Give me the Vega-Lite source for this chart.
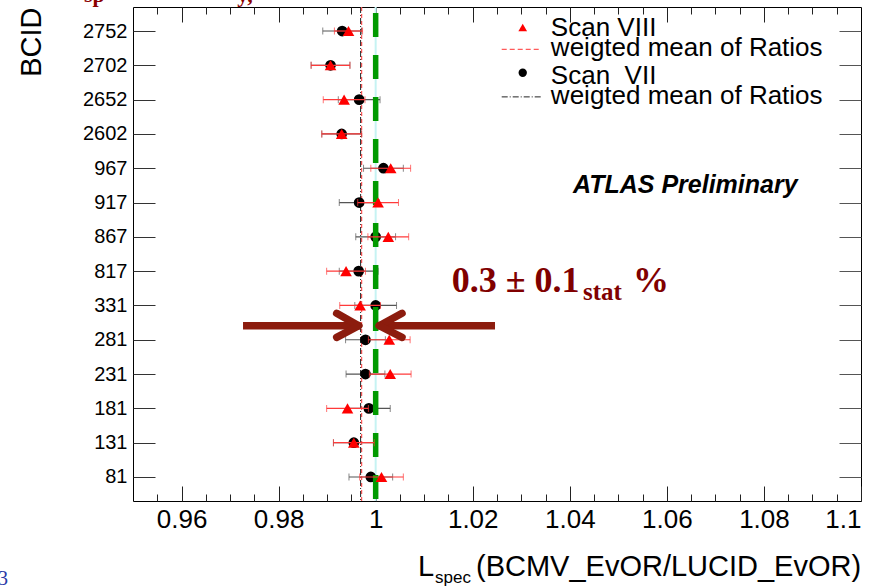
{
  "$schema": "https://vega.github.io/schema/vega-lite/v6.json",
  "width": 728,
  "height": 494,
  "autosize": {"type": "none"},
  "padding": {"left": 133, "top": 7, "right": 31, "bottom": 86},
  "background": "white",
  "config": {
    "font": "Liberation Sans",
    "view": {"stroke": "black", "strokeWidth": 1},
    "axis": {"grid": false, "domain": false}
  },
  "datasets": {
    "ratios": [
      {"bcid": "2752", "scan": "VII", "x": 0.9931, "err": 0.0040},
      {"bcid": "2702", "scan": "VII", "x": 0.9907, "err": 0.0040},
      {"bcid": "2652", "scan": "VII", "x": 0.9966, "err": 0.0043},
      {"bcid": "2602", "scan": "VII", "x": 0.9930, "err": 0.0041},
      {"bcid": "967", "scan": "VII", "x": 1.0016, "err": 0.0041},
      {"bcid": "917", "scan": "VII", "x": 0.9966, "err": 0.0041},
      {"bcid": "867", "scan": "VII", "x": 1.0000, "err": 0.0041},
      {"bcid": "817", "scan": "VII", "x": 0.9965, "err": 0.0040},
      {"bcid": "331", "scan": "VII", "x": 1.0000, "err": 0.0043},
      {"bcid": "281", "scan": "VII", "x": 0.9979, "err": 0.0041},
      {"bcid": "231", "scan": "VII", "x": 0.9979, "err": 0.0040},
      {"bcid": "181", "scan": "VII", "x": 0.9986, "err": 0.0044},
      {"bcid": "131", "scan": "VII", "x": 0.9955, "err": 0.0042},
      {"bcid": "81", "scan": "VII", "x": 0.9990, "err": 0.0045},
      {"bcid": "2752", "scan": "VIII", "x": 0.9944, "err": 0.0029},
      {"bcid": "2702", "scan": "VIII", "x": 0.9907, "err": 0.0040},
      {"bcid": "2652", "scan": "VIII", "x": 0.9935, "err": 0.0043},
      {"bcid": "2602", "scan": "VIII", "x": 0.9930, "err": 0.0041},
      {"bcid": "967", "scan": "VIII", "x": 1.0031, "err": 0.0041},
      {"bcid": "917", "scan": "VIII", "x": 1.0005, "err": 0.0042},
      {"bcid": "867", "scan": "VIII", "x": 1.0026, "err": 0.0042},
      {"bcid": "817", "scan": "VIII", "x": 0.9939, "err": 0.0040},
      {"bcid": "331", "scan": "VIII", "x": 0.9968, "err": 0.0042},
      {"bcid": "281", "scan": "VIII", "x": 1.0028, "err": 0.0043},
      {"bcid": "231", "scan": "VIII", "x": 1.0030, "err": 0.0043},
      {"bcid": "181", "scan": "VIII", "x": 0.9942, "err": 0.0043},
      {"bcid": "131", "scan": "VIII", "x": 0.9955, "err": 0.0042},
      {"bcid": "81", "scan": "VIII", "x": 1.0012, "err": 0.0045}
    ],
    "means": [
      {"scan": "VIII", "x": 0.9971},
      {"scan": "VII", "x": 0.9969}
    ],
    "reference": [{"x": 1}]
  },
  "resolve": {"scale": {"y": "independent"}},
  "layer": [
    {
      "resolve": {"axis": {"x": "independent", "y": "independent"}},
      "layer": [
        {
          "data": {"name": "reference"},
          "mark": {"type": "rule", "color": "#c6f3f3", "strokeWidth": 2},
          "encoding": {
            "x": {"field": "x", "type": "quantitative",
              "scale": {"domain": [0.95, 1.1], "nice": false, "zero": false},
              "axis": {"orient": "bottom", "values": [0.96, 0.98, 1, 1.02, 1.04, 1.06, 1.08, 1.1], "format": "~r",
                "labelFontSize": 26, "labelColor": "black", "labelFont": "Liberation Sans",
                "tickSize": -15, "tickColor": "#222", "tickWidth": 1, "labelPadding": 20, "title": null}}
          }
        },
        {
          "data": {"name": "means"},
          "transform": [{"filter": "datum.scan === 'VIII'"}],
          "mark": {"type": "rule", "color": "#ff5a5a", "strokeWidth": 1.3, "strokeDash": [4, 3]},
          "encoding": {
            "x": {"field": "x", "type": "quantitative",
              "scale": {"domain": [0.95, 1.1], "nice": false, "zero": false},
              "axis": {"orient": "bottom", "values": [0.955, 0.965, 0.97, 0.975, 0.985, 0.99, 0.995, 1.005, 1.01, 1.015, 1.025, 1.03, 1.035, 1.045, 1.05, 1.055, 1.065, 1.07, 1.075, 1.085, 1.09, 1.095],
                "labels": false, "tickSize": -7, "tickColor": "#222", "title": null}}
          }
        },
        {
          "data": {"name": "means"},
          "transform": [{"filter": "datum.scan === 'VII'"}],
          "mark": {"type": "rule", "color": "#222222", "strokeWidth": 1, "strokeDash": [6, 2, 1, 2]},
          "encoding": {
            "x": {"field": "x", "type": "quantitative",
              "scale": {"domain": [0.95, 1.1], "nice": false, "zero": false},
              "axis": {"orient": "top", "values": [0.96, 0.98, 1, 1.02, 1.04, 1.06, 1.08],
                "labels": false, "tickSize": -15, "tickColor": "#222", "title": null}}
          }
        },
        {
          "data": {"name": "ratios"},
          "transform": [{"filter": "datum.scan === 'VII'"}],
          "mark": {"type": "errorbar", "color": "#555555", "ticks": {"size": 7, "color": "#555555"}, "rule": {"strokeWidth": 1.2}},
          "encoding": {
            "x": {"field": "x", "type": "quantitative",
              "scale": {"domain": [0.95, 1.1], "nice": false, "zero": false}, "axis": null},
            "xError": {"field": "err"},
            "y": {"field": "bcid", "type": "nominal",
              "scale": {"type": "point", "padding": 0.7, "domain": ["2752", "2702", "2652", "2602", "967", "917", "867", "817", "331", "281", "231", "181", "131", "81"]},
              "axis": null}
          }
        },
        {
          "data": {"name": "ratios"},
          "transform": [{"filter": "datum.scan === 'VII'"}],
          "mark": {"type": "point", "shape": "circle", "filled": true, "size": 115, "color": "black", "opacity": 1},
          "encoding": {
            "x": {"field": "x", "type": "quantitative",
              "scale": {"domain": [0.95, 1.1], "nice": false, "zero": false}, "axis": null},
            "y": {"field": "bcid", "type": "nominal",
              "scale": {"type": "point", "padding": 0.7, "domain": ["2752", "2702", "2652", "2602", "967", "917", "867", "817", "331", "281", "231", "181", "131", "81"]},
              "axis": {"orient": "left", "title": "BCID", "titleFontSize": 29, "titleFont": "Liberation Sans", "titleFontWeight": "normal",
                "titleColor": "black", "titleAnchor": "start", "titleAlign": "right", "titlePadding": 36,
                "labelFontSize": 20, "labelColor": "black", "labelFont": "Liberation Sans",
                "tickSize": -22, "tickColor": "#333", "labelPadding": 28}}
          }
        },
        {
          "data": {"name": "reference"},
          "mark": {"type": "rule", "color": "#009a00", "strokeWidth": 5.5, "strokeDash": [24, 18], "strokeDashOffset": 36},
          "encoding": {
            "x": {"field": "x", "type": "quantitative",
              "scale": {"domain": [0.95, 1.1], "nice": false, "zero": false},
              "axis": {"orient": "top", "values": [0.955, 0.965, 0.97, 0.975, 0.985, 0.99, 0.995, 1.005, 1.01, 1.015, 1.025, 1.03, 1.035, 1.045, 1.05, 1.055, 1.065, 1.07, 1.075, 1.085, 1.09, 1.095],
                "labels": false, "tickSize": -7, "tickColor": "#222", "title": null}}
          }
        },
        {
          "data": {"name": "ratios"},
          "transform": [{"filter": "datum.scan === 'VIII'"}],
          "mark": {"type": "errorbar", "color": "#ff3a3a", "ticks": {"size": 7, "color": "#ff3a3a"}, "rule": {"strokeWidth": 1.2}},
          "encoding": {
            "x": {"field": "x", "type": "quantitative",
              "scale": {"domain": [0.95, 1.1], "nice": false, "zero": false}, "axis": null},
            "xError": {"field": "err"},
            "y": {"field": "bcid", "type": "nominal",
              "scale": {"type": "point", "padding": 0.7, "domain": ["2752", "2702", "2652", "2602", "967", "917", "867", "817", "331", "281", "231", "181", "131", "81"]},
              "axis": null}
          }
        },
        {
          "data": {"name": "ratios"},
          "transform": [{"filter": "datum.scan === 'VIII'"}],
          "mark": {"type": "point", "shape": "triangle-up", "filled": true, "size": 135, "color": "#ff0000", "opacity": 1},
          "encoding": {
            "x": {"field": "x", "type": "quantitative",
              "scale": {"domain": [0.95, 1.1], "nice": false, "zero": false}, "axis": null},
            "y": {"field": "bcid", "type": "nominal",
              "scale": {"type": "point", "padding": 0.7, "domain": ["2752", "2702", "2652", "2602", "967", "917", "867", "817", "331", "281", "231", "181", "131", "81"]},
              "axis": {"orient": "right", "labels": false, "tickSize": -22, "tickColor": "#555", "title": null}}
          }
        }
      ]
    },
    {
      "data": {"values": [
        {"x": 0.97267, "x2": 0.9957, "y": 4.409, "y2": 4.409},
        {"x": 1.02459, "x2": 1.0016, "y": 4.409, "y2": 4.409}
      ]},
      "mark": {"type": "rule", "color": "#8c1c0e", "strokeWidth": 7.5, "strokeCap": "butt"},
      "encoding": {
        "x": {"field": "x", "type": "quantitative", "scale": {"domain": [0.95, 1.1], "nice": false, "zero": false}, "axis": null},
        "x2": {"field": "x2"},
        "y": {"field": "y", "type": "quantitative", "scale": {"domain": [-0.7, 13.7], "nice": false, "zero": false}, "axis": null},
        "y2": {"field": "y2"}
      }
    },
    {
      "data": {"values": [
        {"x": 0.99197, "x2": 0.99650, "y": 4.771, "y2": 4.409},
        {"x": 0.99197, "x2": 0.99650, "y": 4.071, "y2": 4.409},
        {"x": 1.00543, "x2": 1.00075, "y": 4.771, "y2": 4.409},
        {"x": 1.00543, "x2": 1.00075, "y": 4.071, "y2": 4.409}
      ]},
      "mark": {"type": "rule", "color": "#8c1c0e", "strokeWidth": 7.5, "strokeCap": "round"},
      "encoding": {
        "x": {"field": "x", "type": "quantitative", "scale": {"domain": [0.95, 1.1], "nice": false, "zero": false}, "axis": null},
        "x2": {"field": "x2"},
        "y": {"field": "y", "type": "quantitative", "scale": {"domain": [-0.7, 13.7], "nice": false, "zero": false}, "axis": null},
        "y2": {"field": "y2"}
      }
    },
    {
      "data": {"values": [{"x": 1.04066, "y": 8.277, "text": "ATLAS Preliminary"}]},
      "mark": {"type": "text", "align": "left", "baseline": "alphabetic", "font": "Liberation Sans", "fontSize": 25, "fontWeight": "bold", "fontStyle": "italic", "color": "black"},
      "encoding": {
        "x": {"field": "x", "type": "quantitative", "scale": {"domain": [0.95, 1.1], "nice": false, "zero": false}, "axis": null},
        "y": {"field": "y", "type": "quantitative", "scale": {"domain": [-0.7, 13.7], "nice": false, "zero": false}, "axis": null},
        "text": {"field": "text"}
      }
    },
    {
      "data": {"values": [
        {"x": 1.01567, "y": 5.4, "text": "0.3 ± 0.1"},
        {"x": 1.05302, "y": 5.4, "text": "%"}
      ]},
      "mark": {"type": "text", "align": "left", "baseline": "alphabetic", "font": "Liberation Serif", "fontSize": 36, "fontWeight": "bold", "color": "#800000"},
      "encoding": {
        "x": {"field": "x", "type": "quantitative", "scale": {"domain": [0.95, 1.1], "nice": false, "zero": false}, "axis": null},
        "y": {"field": "y", "type": "quantitative", "scale": {"domain": [-0.7, 13.7], "nice": false, "zero": false}, "axis": null},
        "text": {"field": "text"}
      }
    },
    {
      "data": {"values": [{"x": 1.04272, "y": 5.158, "text": "stat"}]},
      "mark": {"type": "text", "align": "left", "baseline": "alphabetic", "font": "Liberation Serif", "fontSize": 25, "fontWeight": "bold", "color": "#800000"},
      "encoding": {
        "x": {"field": "x", "type": "quantitative", "scale": {"domain": [0.95, 1.1], "nice": false, "zero": false}, "axis": null},
        "y": {"field": "y", "type": "quantitative", "scale": {"domain": [-0.7, 13.7], "nice": false, "zero": false}, "axis": null},
        "text": {"field": "text"}
      }
    },
    {
      "data": {"values": [{"x": 1.0303, "y": 13.106}]},
      "mark": {"type": "point", "shape": "triangle-up", "filled": true, "size": 75, "color": "#ff0000", "opacity": 1},
      "encoding": {
        "x": {"field": "x", "type": "quantitative", "scale": {"domain": [0.95, 1.1], "nice": false, "zero": false}, "axis": null},
        "y": {"field": "y", "type": "quantitative", "scale": {"domain": [-0.7, 13.7], "nice": false, "zero": false}, "axis": null}
      }
    },
    {
      "data": {"values": [{"x": 1.0303, "y": 11.783}]},
      "mark": {"type": "point", "shape": "circle", "filled": true, "size": 70, "color": "black", "opacity": 1},
      "encoding": {
        "x": {"field": "x", "type": "quantitative", "scale": {"domain": [0.95, 1.1], "nice": false, "zero": false}, "axis": null},
        "y": {"field": "y", "type": "quantitative", "scale": {"domain": [-0.7, 13.7], "nice": false, "zero": false}, "axis": null}
      }
    },
    {
      "data": {"values": [{"x": 1.02597, "x2": 1.03421, "y": 12.465}]},
      "mark": {"type": "rule", "color": "#ff5a5a", "strokeWidth": 1.3, "strokeDash": [5, 3]},
      "encoding": {
        "x": {"field": "x", "type": "quantitative", "scale": {"domain": [0.95, 1.1], "nice": false, "zero": false}, "axis": null},
        "x2": {"field": "x2"},
        "y": {"field": "y", "type": "quantitative", "scale": {"domain": [-0.7, 13.7], "nice": false, "zero": false}, "axis": null}
      }
    },
    {
      "data": {"values": [{"x": 1.02597, "x2": 1.03421, "y": 11.08}]},
      "mark": {"type": "rule", "color": "#222222", "strokeWidth": 1, "strokeDash": [6, 2, 1, 2]},
      "encoding": {
        "x": {"field": "x", "type": "quantitative", "scale": {"domain": [0.95, 1.1], "nice": false, "zero": false}, "axis": null},
        "x2": {"field": "x2"},
        "y": {"field": "y", "type": "quantitative", "scale": {"domain": [-0.7, 13.7], "nice": false, "zero": false}, "axis": null}
      }
    },
    {
      "data": {"values": [
        {"x": 1.0361, "y": 12.853, "text": "Scan VIII"},
        {"x": 1.0361, "y": 12.27, "text": "weigted mean of Ratios"},
        {"x": 1.0361, "y": 11.46, "text": "Scan\u00a0 VII"},
        {"x": 1.0361, "y": 10.871, "text": "weigted mean of Ratios"}
      ]},
      "mark": {"type": "text", "align": "left", "baseline": "alphabetic", "font": "Liberation Sans", "fontSize": 26, "color": "black"},
      "encoding": {
        "x": {"field": "x", "type": "quantitative", "scale": {"domain": [0.95, 1.1], "nice": false, "zero": false}, "axis": null},
        "y": {"field": "y", "type": "quantitative", "scale": {"domain": [-0.7, 13.7], "nice": false, "zero": false}, "axis": null},
        "text": {"field": "text"}
      }
    },
    {
      "data": {"values": [
        {"x": 1.00873, "y": -2.886, "text": "L"},
        {"x": 1.02067, "y": -2.886, "text": "(BCMV_EvOR/LUCID_EvOR)"}
      ]},
      "mark": {"type": "text", "align": "left", "baseline": "alphabetic", "font": "Liberation Sans", "fontSize": 29, "color": "black"},
      "encoding": {
        "x": {"field": "x", "type": "quantitative", "scale": {"domain": [0.95, 1.1], "nice": false, "zero": false}, "axis": null},
        "y": {"field": "y", "type": "quantitative", "scale": {"domain": [-0.7, 13.7], "nice": false, "zero": false}, "axis": null},
        "text": {"field": "text"}
      }
    },
    {
      "data": {"values": [{"x": 1.01223, "y": -3.09, "text": "spec"}]},
      "mark": {"type": "text", "align": "left", "baseline": "alphabetic", "font": "Liberation Sans", "fontSize": 17, "color": "black"},
      "encoding": {
        "x": {"field": "x", "type": "quantitative", "scale": {"domain": [0.95, 1.1], "nice": false, "zero": false}, "axis": null},
        "y": {"field": "y", "type": "quantitative", "scale": {"domain": [-0.7, 13.7], "nice": false, "zero": false}, "axis": null},
        "text": {"field": "text"}
      }
    },
    {
      "data": {"values": [{"x": 0.92321, "y": -3.149, "text": "3"}]},
      "mark": {"type": "text", "align": "center", "baseline": "alphabetic", "font": "Liberation Serif", "fontSize": 20, "color": "#2a3aa8"},
      "encoding": {
        "x": {"field": "x", "type": "quantitative", "scale": {"domain": [0.95, 1.1], "nice": false, "zero": false}, "axis": null},
        "y": {"field": "y", "type": "quantitative", "scale": {"domain": [-0.7, 13.7], "nice": false, "zero": false}, "axis": null},
        "text": {"field": "text"}
      }
    },
    {
      "data": {"values": [
        {"x": 0.9399, "y": 13.86, "text": "sp"},
        {"x": 0.9715, "y": 13.86, "text": "y,"}
      ]},
      "mark": {"type": "text", "align": "left", "baseline": "alphabetic", "font": "Liberation Serif", "fontSize": 22, "fontWeight": "bold", "color": "#8b0000"},
      "encoding": {
        "x": {"field": "x", "type": "quantitative", "scale": {"domain": [0.95, 1.1], "nice": false, "zero": false}, "axis": null},
        "y": {"field": "y", "type": "quantitative", "scale": {"domain": [-0.7, 13.7], "nice": false, "zero": false}, "axis": null},
        "text": {"field": "text"}
      }
    }
  ]
}
